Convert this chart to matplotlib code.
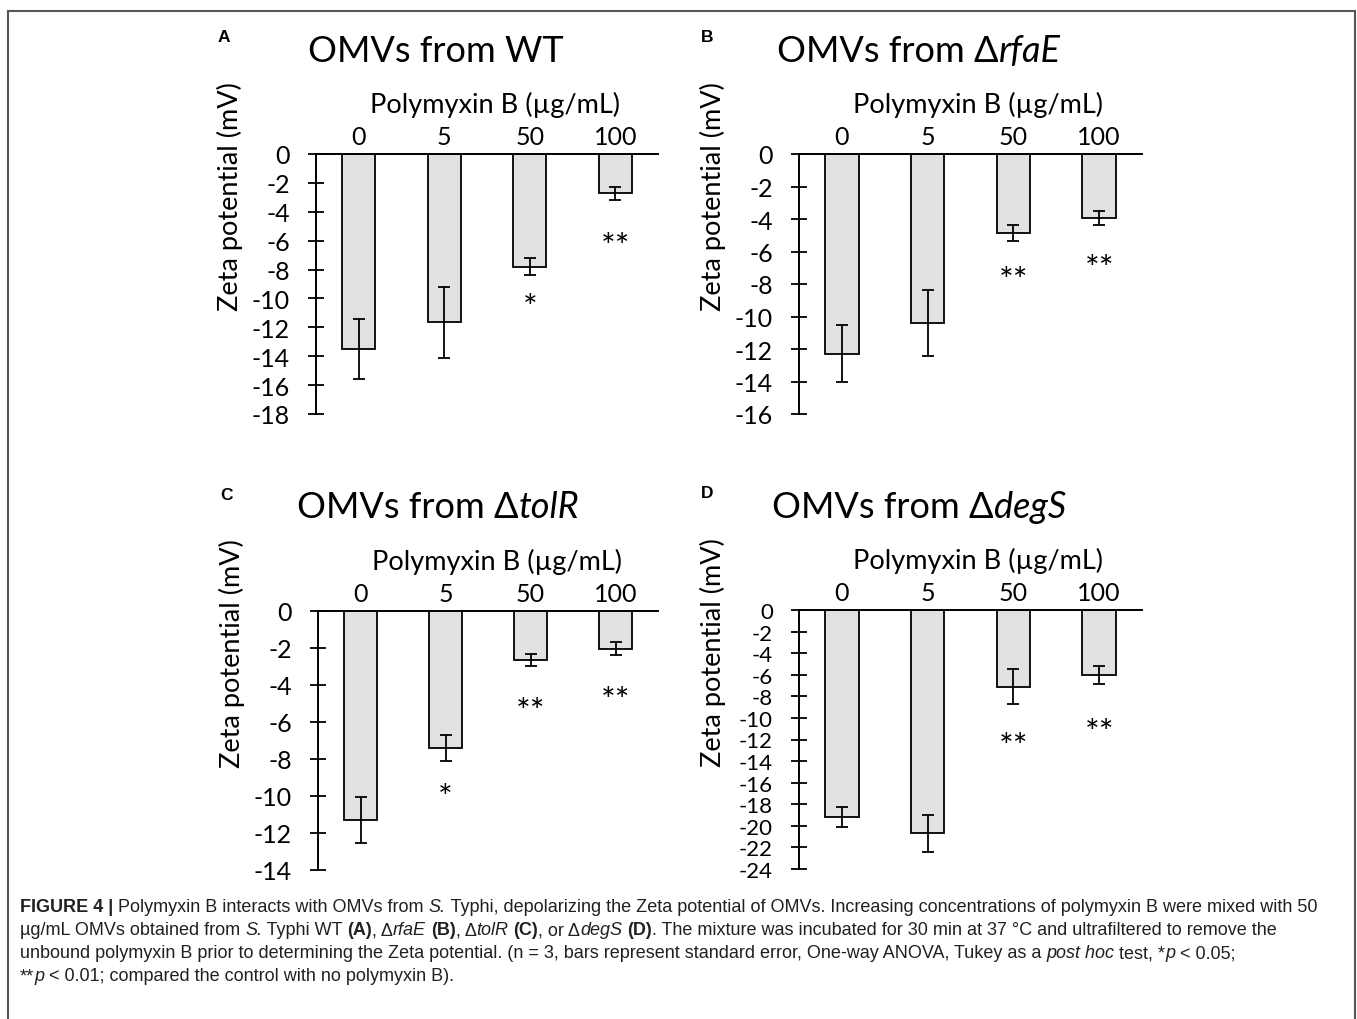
import matplotlib
matplotlib.use('Agg')
import matplotlib.pyplot as plt
from matplotlib.patches import Rectangle

plt.rcParams['axes.unicode_minus'] = False

# Polymyxin B concentrations (ug/mL)
conc = ['0', '5', '50', '100']

# Zeta potential means and standard errors (mV)
wt_mean = [-13.5, -11.65, -7.8, -2.7]
wt_err = [2.05, 2.45, 0.6, 0.45]
rfae_mean = [-12.3, -10.4, -4.85, -3.95]
rfae_err = [1.75, 2.05, 0.5, 0.43]
tolr_mean = [-11.3, -7.4, -2.65, -2.03]
tolr_err = [1.25, 0.7, 0.32, 0.35]
degs_mean = [-19.2, -20.7, -7.1, -6.0]
degs_err = [0.9, 1.7, 1.65, 0.85]

# significance marks and where they sit (mV)
wt_sig = ['', '', '*', '**']
wt_sig_y = [0, 0, -10.0, -5.8]
rfae_sig = ['', '', '**', '**']
rfae_sig_y = [0, 0, -7.2, -6.5]
tolr_sig = ['', '*', '**', '**']
tolr_sig_y = [0, -9.6, -4.95, -4.36]
degs_sig = ['', '', '**', '**']
degs_sig_y = [0, 0, -11.8, -10.5]

W, H = 1357, 1020
fig = plt.figure(figsize=(W / 100, H / 100), dpi=100)
renderer = fig.canvas.get_renderer()

FONT = ['Lato', 'DejaVu Sans']
CAP = ['Liberation Sans', 'DejaVu Sans']


def fx(px):
    return px / W


def fy(py):
    return 1 - py / H


def seg_width(s, **kw):
    t1 = fig.text(0, 0, 'X' + s + 'X', **kw)
    t2 = fig.text(0, 0, 'XX', **kw)
    w = t1.get_window_extent(renderer).width - t2.get_window_extent(renderer).width
    t1.remove()
    t2.remove()
    return w


def style_kw(style, size, family, color):
    kw = dict(fontsize=size, family=family, color=color)
    if 'b' in style:
        kw['fontweight'] = 'bold'
    if 'i' in style:
        kw['fontstyle'] = 'italic'
    return kw


def rich_line(x, y, parts, size, family, color='black', center=False):
    widths = [seg_width(s, **style_kw(st, size, family, color)) for s, st in parts]
    cur = x - sum(widths) / 2 if center else x
    for (s, st), w in zip(parts, widths):
        fig.text(fx(cur), fy(y), s, va='center_baseline', ha='left',
                 **style_kw(st, size, family, color))
        cur += w


panels = [
    ('A', [('OMVs from WT', '')], wt_mean, wt_err, wt_sig, wt_sig_y, -18),
    ('B', [('OMVs from Δ', ''), ('rfaE', 'i')], rfae_mean, rfae_err, rfae_sig, rfae_sig_y, -16),
    ('C', [('OMVs from Δ', ''), ('tolR', 'i')], tolr_mean, tolr_err, tolr_sig, tolr_sig_y, -14),
    ('D', [('OMVs from Δ', ''), ('degS', 'i')], degs_mean, degs_err, degs_sig, degs_sig_y, -24),
]

# pixel boxes (left, top, right, bottom) of each plot area
boxes = [(316, 155, 658, 415), (799, 155, 1142, 415),
         (318, 612, 658, 871), (799, 611, 1142, 870)]

for (letter, title, mean, err, sig, sig_y, ymin), (l, t, r, b) in zip(panels, boxes):
    ax = fig.add_axes([fx(l), fy(b), (r - l) / W, (b - t) / H])
    x = range(len(conc))
    ax.bar(x, mean, width=0.39, color='#e1e1e1', edgecolor='black', linewidth=1.3)
    ax.errorbar(x, mean, yerr=err, fmt='none', ecolor='black', elinewidth=1.3,
                capsize=4.3, capthick=1.3)
    for i, s in enumerate(sig):
        if s:
            ax.annotate(s, (i, sig_y[i]), xytext=(0, -7), textcoords='offset points',
                        ha='center', va='center', fontsize=25, family=FONT)
    ax.set_xlim(-0.5, len(conc) - 0.5)
    ax.set_ylim(ymin, 0)
    ax.set_yticks(range(ymin, 1, 2))
    ax.xaxis.tick_top()
    ax.set_xticks(list(x))
    ax.set_xticklabels(conc, family=FONT, fontsize=18)
    ax.tick_params(axis='x', length=0, pad=4)
    ysize = 16 if ymin == -24 else 18
    ax.tick_params(axis='y', direction='inout', length=11.5, width=1.3, pad=13,
                   labelsize=ysize)
    for lab in ax.get_yticklabels():
        lab.set_family(FONT)
    ax.spines['right'].set_visible(False)
    ax.spines['bottom'].set_visible(False)
    ax.spines['left'].set_linewidth(1.4)
    ax.spines['top'].set_linewidth(1.4)
    ax.spines['left'].set_bounds(ymin, 0)
    ax.patch.set_alpha(0)

    # labels around the plot
    fig.text(fx(l - 86), fy(t + 42), 'Zeta potential (mV)', rotation=90,
             ha='center', va='center', fontsize=19.5, family=FONT)
    fig.text(fx(l + 179), fy(t - 50), 'Polymyxin B (µg/mL)', ha='center',
             va='center', fontsize=19.5, family=FONT)
    rich_line(l + 120, t - 107, title, 26, FONT, center=True)
    fig.text(fx(l - 98), fy(t - 117), letter, ha='left', va='center',
             fontsize=12.5, fontweight='bold', family=CAP)

# caption
cap_lines = [
    [('FIGURE 4 |', 'b'), (' Polymyxin B interacts with OMVs from ', ''), ('S.', 'i'),
     (' Typhi, depolarizing the Zeta potential of OMVs. Increasing concentrations of polymyxin B were mixed with 50', '')],
    [('µg/mL OMVs obtained from ', ''), ('S.', 'i'), (' Typhi WT ', ''), ('(A)', 'b'),
     (', Δ', ''), ('rfaE', 'i'), (' ', ''), ('(B)', 'b'), (', Δ', ''), ('tolR', 'i'),
     (' ', ''), ('(C)', 'b'), (', or Δ', ''), ('degS', 'i'), (' ', ''), ('(D)', 'b'),
     ('. The mixture was incubated for 30 min at 37 °C and ultrafiltered to remove the', '')],
    [('unbound polymyxin B prior to determining the Zeta potential. (n = 3, bars represent standard error, '
      'One-way ANOVA, Tukey as a ', ''), ('post hoc', 'i'), (' test, *', ''), ('p', 'i'),
     (' < 0.05;', '')],
    [('**', ''), ('p', 'i'), (' < 0.01; compared the control with no polymyxin B).', '')],
]
for k, line in enumerate(cap_lines):
    rich_line(20, 906 + 23 * k, line, 13, CAP, color='#231f20')

# frame around the figure
fig.patches.append(Rectangle((fx(8), -0.02), fx(1355) - fx(8), fy(12) + 0.02,
                             transform=fig.transFigure, fill=False,
                             edgecolor='#555555', linewidth=1.5))

fig.savefig('out.png', dpi=100)
